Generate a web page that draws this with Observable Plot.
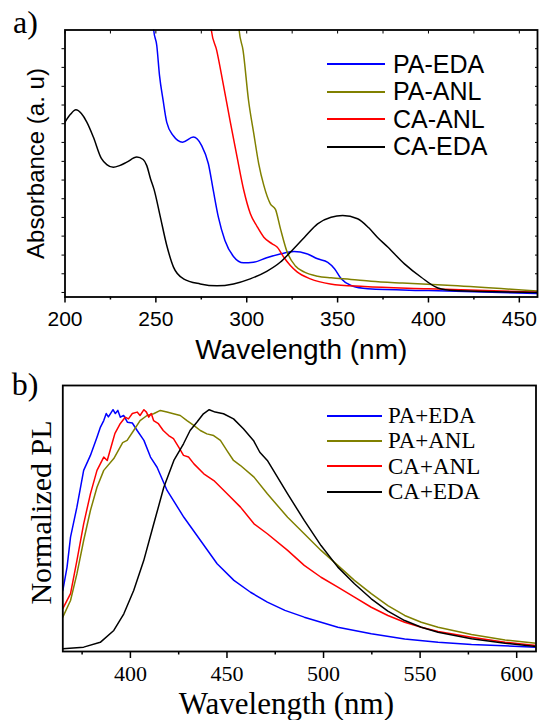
<!DOCTYPE html>
<html>
<head>
<meta charset="utf-8">
<script src="https://cdn.jsdelivr.net/npm/d3@7"></script>
<script src="https://cdn.jsdelivr.net/npm/@observablehq/plot@0.6"></script>
<style>
  html, body { margin: 0; padding: 0; background: #fff; }
  body { position: relative; width: 539px; height: 720px; overflow: hidden; }
  .panel { width: 539px; }
  .legend { position: absolute; display: grid; grid-template-columns: auto auto; align-items: center; color: #000; }
  .legend svg { display: block; }
</style>
</head>
<body>
<div id="panelA" class="panel"></div>
<div id="panelB" class="panel"></div>
<script>
// ---------- shared ----------
const lineColors = ["#0000ff", "#808000", "#ff0000", "#000000"];

// ---------- panel a) absorbance ----------
const absSeries = ["PA-EDA", "PA-ANL", "CA-ANL", "CA-EDA"];
const absLetter = "a)";
const absXLabel = "Wavelength (nm)";
const absYLabel = "Absorbance (a. u)";
const absXMajor = [200, 250, 300, 350, 400, 450];
const absXMinor = [225, 275, 325, 375, 425];
const absXAll = [200, 225, 250, 275, 300, 325, 350, 375, 400, 425, 450];
const absYTicks = [0.017, 0.087, 0.157, 0.228, 0.298, 0.368, 0.438, 0.508, 0.579, 0.649, 0.719, 0.789, 0.860, 0.930];

const absPaEda = [[248,1.08],[248.8,1.0],[250.5,0.942],[252,0.830],[254,0.736],[256,0.654],[259.5,0.605],[264.7,0.580],[270.6,0.599],[275.2,0.567],[278.9,0.499],[281.6,0.399],[284.4,0.299],[288,0.212],[292.7,0.152],[298.2,0.128],[303.7,0.130],[311,0.147],[318.4,0.161],[326,0.170],[333,0.162],[339,0.143],[344.6,0.130],[348.3,0.106],[352,0.068],[357.4,0.043],[366.6,0.031],[400,0.024],[460,0.013]];
const absPaAnl = [[295.3,1.05],[295.8,1.0],[298,0.923],[301,0.736],[303.9,0.611],[306.6,0.499],[309.4,0.418],[313,0.349],[315.8,0.328],[318.5,0.257],[322.2,0.169],[326.8,0.116],[331.8,0.093],[339,0.078],[346.4,0.072],[357.4,0.066],[368.4,0.059],[385.7,0.052],[413,0.043],[460,0.022]];
const absCaAnl = [[279.8,1.05],[280.5,1.0],[283.5,0.923],[287,0.800],[291,0.654],[294.7,0.524],[298.4,0.399],[302,0.312],[305.7,0.264],[309.4,0.224],[314,0.199],[316.7,0.187],[320.4,0.149],[324,0.118],[327.7,0.094],[335,0.068],[346,0.049],[364.6,0.039],[400,0.031],[460,0.018]];
const absCaEda = [[200,0.655],[203,0.684],[206,0.701],[209,0.687],[212,0.655],[215.6,0.599],[220,0.519],[223,0.496],[226.6,0.486],[230,0.492],[234,0.505],[239.5,0.524],[243,0.515],[245,0.492],[247,0.444],[249,0.403],[252.3,0.305],[256,0.193],[259.7,0.112],[265.2,0.068],[274.4,0.049],[283.6,0.042],[292.7,0.049],[301.9,0.068],[311,0.096],[318.4,0.130],[324,0.168],[331.8,0.224],[339,0.274],[346.4,0.299],[352.8,0.305],[361,0.293],[367,0.260],[372,0.223],[377.6,0.187],[386.8,0.124],[396,0.074],[405.2,0.034],[414.3,0.024],[430,0.021],[460,0.017]];

// ---------- panel b) photoluminescence ----------
const plSeries = ["PA+EDA", "PA+ANL", "CA+ANL", "CA+EDA"];
const plLetter = "b)";
const plXLabel = "Wavelength (nm)";
const plYLabel = "Normalized PL";
const plXMajor = [400, 450, 500, 550, 600];
const plXMinor = [375, 425, 475, 525, 575];

const plPaEda = [[365,0.252],[367.2,0.349],[369,0.473],[372.3,0.597],[375.8,0.749],[379.3,0.811],[382.7,0.886],[384.5,0.928],[386.2,0.955],[387.5,0.984],[388.6,0.970],[389.7,0.984],[391,1.0],[392.2,0.984],[393.5,0.997],[394.8,0.969],[396.5,0.976],[398.5,0.948],[401,0.945],[403.5,0.914],[407,0.873],[410.4,0.804],[413.8,0.762],[419,0.666],[427.7,0.555],[436.3,0.459],[444.9,0.363],[453.6,0.294],[462.2,0.245],[470.9,0.204],[480,0.170],[490,0.142],[507.4,0.100],[524.7,0.073],[542,0.052],[559.3,0.038],[576.6,0.029],[610,0.018]];
const plPaAnl = [[365,0.142],[369,0.211],[372.3,0.321],[375.8,0.459],[379.3,0.583],[382.7,0.679],[386.2,0.749],[391.4,0.798],[396,0.864],[398.3,0.873],[401.7,0.914],[405,0.955],[408.6,0.976],[412,0.983],[415.5,0.997],[418.9,0.990],[422.3,0.983],[425.8,0.976],[429.3,0.955],[432.8,0.935],[436.2,0.914],[439.6,0.900],[443.1,0.893],[446.6,0.873],[450,0.831],[453.4,0.790],[457,0.769],[464,0.721],[470.9,0.652],[481.4,0.555],[490,0.487],[498.7,0.418],[507.4,0.356],[516,0.294],[524.7,0.239],[533.3,0.190],[542,0.149],[550.6,0.121],[559.3,0.100],[576.6,0.070],[594,0.048],[610,0.034]];
const plCaAnl = [[365,0.177],[369,0.239],[372.3,0.376],[375.8,0.528],[379.3,0.652],[382.7,0.749],[386.2,0.804],[388,0.790],[390.5,0.860],[392,0.902],[394.8,0.943],[397.3,0.969],[399,0.962],[401,0.984],[403.5,0.990],[405,0.976],[407,1.0],[408.3,0.990],[409.5,0.969],[410.8,0.984],[412,0.955],[414.5,0.942],[417,0.914],[419.8,0.893],[422.3,0.880],[425,0.845],[427.5,0.811],[430.1,0.804],[432.9,0.776],[438,0.735],[443.2,0.707],[450.1,0.652],[457,0.597],[464,0.528],[470.9,0.487],[481.4,0.418],[490,0.356],[498.7,0.307],[507.4,0.266],[516,0.225],[524.7,0.183],[533.3,0.149],[542,0.121],[550.6,0.100],[559.3,0.083],[576.6,0.059],[594,0.038],[610,0.025]];
const plCaEda = [[365,0.011],[375.8,0.018],[384.4,0.038],[391.4,0.087],[396.6,0.156],[401.7,0.252],[406.9,0.376],[412.1,0.528],[417.3,0.679],[422.5,0.790],[427.5,0.859],[430.9,0.914],[434.4,0.948],[437.8,0.983],[440.8,1.0],[443.9,0.990],[448.2,0.983],[453.4,0.962],[458.5,0.921],[463.7,0.873],[467,0.824],[470.9,0.790],[481.4,0.652],[490,0.542],[498.7,0.438],[507.4,0.349],[516,0.280],[524.7,0.218],[533.3,0.167],[542,0.128],[550.6,0.100],[559.3,0.080],[576.6,0.053],[594,0.034],[610,0.021]];

// ---------- build tables ----------
function table(seriesNames, arrays) {
  const rows = [];
  arrays.forEach((arr, i) => arr.forEach(([x, y]) => rows.push({series: seriesNames[i], x, y})));
  return rows;
}
const absRows = table(absSeries, [absPaEda, absPaAnl, absCaAnl, absCaEda]);
const plRows = table(plSeries, [plPaEda, plPaAnl, plCaAnl, plCaEda]);

const sans = "'Liberation Sans', Arial, Helvetica, sans-serif";
const serif = "'Liberation Serif', 'Times New Roman', Times, serif";
const blank = () => "";

// ---------- panel a ----------
const plotA = Plot.plot({
  width: 539, height: 370,
  marginLeft: 64.5, marginRight: 2, marginTop: 29.5, marginBottom: 73.5,
  style: {fontFamily: sans, color: "#000", background: "#fff", overflow: "visible"},
  x: {domain: [200, 460]},
  y: {domain: [0, 1]},
  color: {domain: absSeries, range: lineColors},
  marks: [
    Plot.line(absRows, {x: "x", y: "y", z: "series", stroke: "series", strokeWidth: 1.5, curve: "monotone-x", clip: true}),
    Plot.axisX({ticks: absXMajor, tickSize: 6, tickPadding: 8.5, fontSize: 21, label: null, strokeWidth: 1.5}),
    Plot.axisX({ticks: absXMinor, tickSize: 3, tickFormat: blank, label: null, strokeWidth: 1.5}),
    Plot.axisX({anchor: "top", ticks: absXAll, tickSize: -3, tickFormat: blank, label: null}),
    Plot.axisY({ticks: absYTicks, tickSize: 3, tickFormat: blank, label: null}),
    Plot.axisY({anchor: "right", ticks: absYTicks, tickSize: -3, tickFormat: blank, label: null}),
    Plot.frame({stroke: "#000", strokeWidth: 1.8}),
    Plot.text([absXLabel], {text: d => d, frameAnchor: "bottom", textAnchor: "middle", lineAnchor: "middle", dy: 53.5, fontSize: 28, fill: "#000"}),
    Plot.text([absYLabel], {text: d => d, frameAnchor: "left", textAnchor: "middle", lineAnchor: "middle", rotate: -90, dx: -28.5, fontSize: 24, fill: "#000"}),
    Plot.text([absLetter], {text: d => d, frameAnchor: "top-left", textAnchor: "start", lineAnchor: "middle", dx: -52, dy: -7.5, fontSize: 32, fontFamily: serif, fill: "#000"})
  ]
});
document.getElementById("panelA").appendChild(plotA);

// ---------- panel b ----------
const plotB = Plot.plot({
  width: 539, height: 350,
  marginLeft: 62.3, marginRight: 3.5, marginTop: 15, marginBottom: 69,
  style: {fontFamily: serif, color: "#000", background: "#fff", overflow: "visible"},
  x: {domain: [365, 610]},
  y: {domain: [0, 1.1], axis: null},
  color: {domain: plSeries, range: lineColors},
  marks: [
    Plot.line(plRows, {x: "x", y: "y", z: "series", stroke: "series", strokeWidth: 1.5, clip: true}),
    Plot.axisX({ticks: plXMajor, tickSize: 7, tickPadding: 7, fontSize: 22, label: null, strokeWidth: 1.5}),
    Plot.axisX({ticks: plXMinor, tickSize: 3.5, tickFormat: blank, label: null, strokeWidth: 1.5}),
    Plot.frame({stroke: "#000", strokeWidth: 1.8}),
    Plot.text([plXLabel], {text: d => d, frameAnchor: "bottom", textAnchor: "middle", lineAnchor: "middle", dy: 52.5, dx: -13, fontSize: 31, fill: "#000"}),
    Plot.text([plYLabel], {text: d => d, frameAnchor: "left", textAnchor: "middle", lineAnchor: "middle", rotate: -90, dx: -21, dy: -6, fontSize: 30, fill: "#000"}),
    Plot.text([plLetter], {text: d => d, frameAnchor: "top-left", textAnchor: "start", lineAnchor: "middle", dx: -51, dy: -1, fontSize: 32, fill: "#000"})
  ]
});
document.getElementById("panelB").appendChild(plotB);

// ---------- legends (HTML overlays) ----------
function legend(names, colors, opt) {
  const box = document.createElement("div");
  box.className = "legend";
  box.style.left = opt.left + "px";
  box.style.top = opt.top + "px";
  box.style.gridAutoRows = opt.rowH + "px";
  box.style.columnGap = opt.gap + "px";
  box.style.font = opt.font;
  box.style.lineHeight = opt.rowH + "px";
  names.forEach((name, i) => {
    const sw = d3.create("svg").attr("width", opt.lineW).attr("height", 4);
    sw.append("line").attr("x1", 0).attr("x2", opt.lineW).attr("y1", 2).attr("y2", 2)
      .attr("stroke", colors[i]).attr("stroke-width", 2);
    box.appendChild(sw.node());
    const t = document.createElement("span");
    t.textContent = name;
    box.appendChild(t);
  });
  document.body.appendChild(box);
}
legend(absSeries, lineColors, {left: 327, top: 50.5, rowH: 27.5, lineW: 58, gap: 8, font: "25px " + sans});
legend(plSeries, lineColors, {left: 327, top: 403, rowH: 25.3, lineW: 55, gap: 6, font: "23px " + serif});
</script>
</body>
</html>
